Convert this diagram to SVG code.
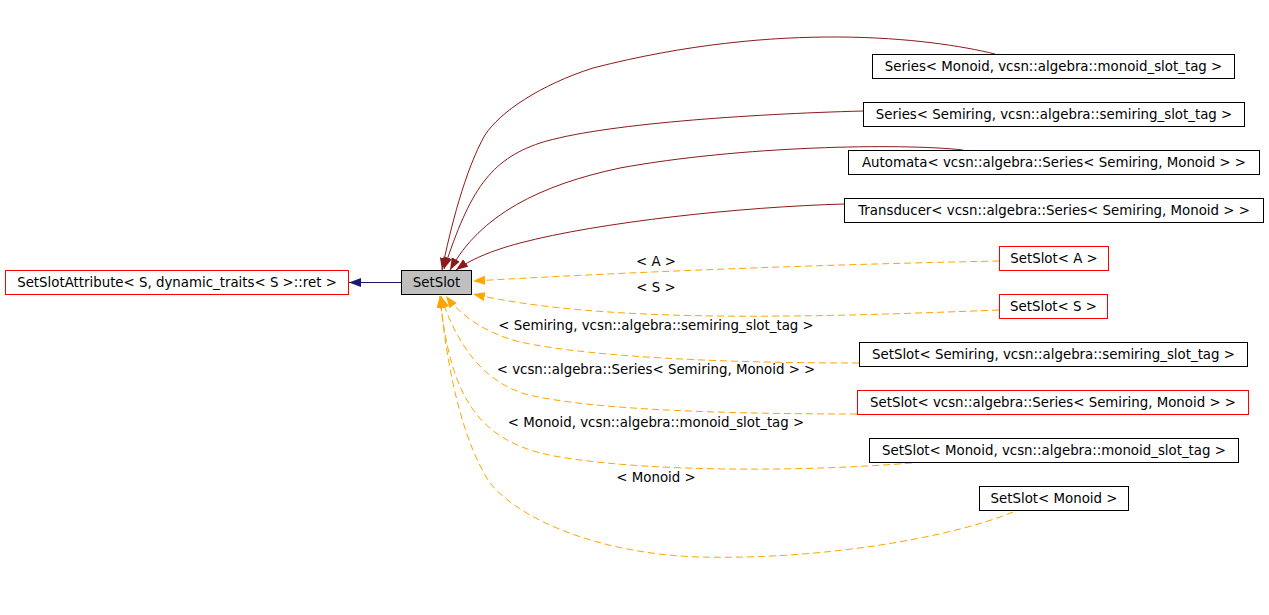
<svg xmlns="http://www.w3.org/2000/svg" width="1269" height="615" viewBox="0 0 1269 615">
<style>
text{font-family:"DejaVu Sans",sans-serif;font-size:13.35px;fill:#000;text-anchor:middle}
.box{fill:#fff;stroke:#000;stroke-width:1}
.red{fill:#fff;stroke:#ff0000;stroke-width:1}
.inh{fill:none;stroke:#8b1a1a;stroke-width:1;marker-end:url(#ah)}
.tpl{fill:none;stroke:#ffa500;stroke-width:1;stroke-dasharray:7,4;marker-end:url(#ao)}
.pub{fill:none;stroke:#191970;stroke-width:1;marker-end:url(#ab)}
</style>
<defs>
<marker id="ah" markerUnits="userSpaceOnUse" markerWidth="14" markerHeight="11" refX="12" refY="4.5" orient="auto"><path d="M0,0 L12,4.5 L0,9 z" fill="#8b1a1a"/></marker>
<marker id="ao" markerUnits="userSpaceOnUse" markerWidth="14" markerHeight="11" refX="12" refY="4.5" orient="auto"><path d="M0,0 L12,4.5 L0,9 z" fill="#ffa500"/></marker>
<marker id="ab" markerUnits="userSpaceOnUse" markerWidth="14" markerHeight="11" refX="12" refY="4.5" orient="auto"><path d="M0,0 L12,4.5 L0,9 z" fill="#191970"/></marker>
</defs>
<g id="connectors">
<path class="pub" d="M401,282.5 L349,282.5"/>
<path class="inh" d="M995,54 C930,38 780,20 593,68 C540,85 500,112 485,135 C465,170 450,230 442,270"/>
<path class="inh" d="M863,111 C750,114 600,124 540,143 C490,160 470,190 444,269"/>
<path class="inh" d="M963,150 C900,143 740,146 620,168 C540,185 480,215 450,270"/>
<path class="inh" d="M844,204 C740,207 600,222 520,243 C490,251 470,260 456,270"/>
<path class="tpl" d="M999,261 C900,263 700,268 473,281"/>
<path class="tpl" d="M999,310 C800,318 600,323 473,294"/>
<path class="tpl" d="M859,363 C700,363 580,355 520,342 C485,333 460,315 446,296"/>
<path class="tpl" d="M857,414 C700,414 580,408 525,394 C480,380 455,340 441,296"/>
<path class="tpl" d="M912,463 C800,472 650,472 560,457 C480,444 450,400 440,296"/>
<path class="tpl" d="M1013,512 C950,538 820,560 700,557 C600,554 520,520 490,483 C465,445 448,380 440,296"/>
<text x="656" y="266">&lt; A &gt;</text>
<text x="656" y="292">&lt; S &gt;</text>
<text x="656" y="330">&lt; Semiring, vcsn::algebra::semiring_slot_tag &gt;</text>
<text x="656" y="374">&lt; vcsn::algebra::Series&lt; Semiring, Monoid &gt; &gt;</text>
<text x="656" y="427">&lt; Monoid, vcsn::algebra::monoid_slot_tag &gt;</text>
<text x="656" y="482">&lt; Monoid &gt;</text>
</g>
<g id="SetSlotAttribute"><rect class="red" x="5.5" y="270.5" width="343" height="24"/><text x="177" y="287">SetSlotAttribute&lt; S, dynamic_traits&lt; S &gt;::ret &gt;</text></g>
<g id="SetSlot"><rect x="401.5" y="270.5" width="70" height="24" fill="#bfbfbf" stroke="#000"/><text x="436.5" y="287">SetSlot</text></g>
<g id="SeriesMonoid"><rect class="box" x="872.5" y="54.5" width="362" height="24"/><text x="1053.5" y="71">Series&lt; Monoid, vcsn::algebra::monoid_slot_tag &gt;</text></g>
<g id="SeriesSemiring"><rect class="box" x="863.5" y="102.5" width="381" height="24"/><text x="1054" y="119">Series&lt; Semiring, vcsn::algebra::semiring_slot_tag &gt;</text></g>
<g id="Automata"><rect class="box" x="848.5" y="150.5" width="411" height="24"/><text x="1054" y="167">Automata&lt; vcsn::algebra::Series&lt; Semiring, Monoid &gt; &gt;</text></g>
<g id="Transducer"><rect class="box" x="844.5" y="198.5" width="419" height="24"/><text x="1054" y="215">Transducer&lt; vcsn::algebra::Series&lt; Semiring, Monoid &gt; &gt;</text></g>
<g id="SetSlotA"><rect class="red" x="999.5" y="246.5" width="109" height="24"/><text x="1054" y="263">SetSlot&lt; A &gt;</text></g>
<g id="SetSlotS"><rect class="red" x="999.5" y="294.5" width="108" height="24"/><text x="1053.5" y="311">SetSlot&lt; S &gt;</text></g>
<g id="SetSlotSemiring"><rect class="box" x="859.5" y="342.5" width="388" height="24"/><text x="1053.5" y="359">SetSlot&lt; Semiring, vcsn::algebra::semiring_slot_tag &gt;</text></g>
<g id="SetSlotSeries"><rect class="red" x="857.5" y="390.5" width="391" height="24"/><text x="1053" y="407">SetSlot&lt; vcsn::algebra::Series&lt; Semiring, Monoid &gt; &gt;</text></g>
<g id="SetSlotMonoidTag"><rect class="box" x="869.5" y="438.5" width="369" height="24"/><text x="1054" y="455">SetSlot&lt; Monoid, vcsn::algebra::monoid_slot_tag &gt;</text></g>
<g id="SetSlotMonoid"><rect class="box" x="979.5" y="486.5" width="149" height="24"/><text x="1054" y="503">SetSlot&lt; Monoid &gt;</text></g>
</svg>
